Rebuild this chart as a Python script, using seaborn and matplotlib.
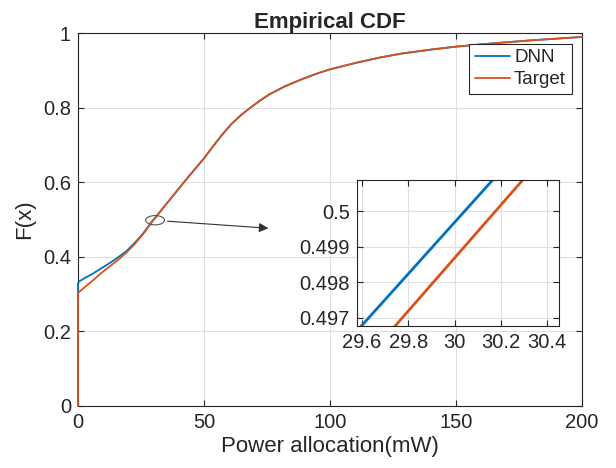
import matplotlib
matplotlib.use("Agg")
import matplotlib.pyplot as plt
import matplotlib.patches as patches
import numpy as np
import seaborn as sns

# Curvas CDF empíricas
dnn_x = [0, 0, 0.5, 1.5, 3, 6, 9, 12.6, 16, 19.2, 22.5, 26, 29.55, 29.597, 30.165, 30.22,
         35, 41.7, 46, 50, 54, 57.5, 61, 65, 68.8, 72, 76, 82, 89, 95, 100, 110, 120,
         128, 140, 150, 165, 180, 200]
dnn_y = [0, 0.329, 0.334, 0.338, 0.344, 0.355, 0.368, 0.383, 0.399, 0.415, 0.437, 0.464,
         0.49643, 0.49677, 0.50088, 0.50128,
         0.541, 0.597, 0.632, 0.664, 0.700, 0.730, 0.757, 0.782, 0.802, 0.818, 0.836,
         0.857, 0.877, 0.892, 0.903, 0.920, 0.935, 0.945, 0.956, 0.964, 0.973, 0.981, 0.990]

target_x = [0, 0, 3, 6, 9, 12.6, 16, 19.2, 22.5, 26, 29.70, 29.743, 30.295, 30.34,
            35, 41.7, 46, 50, 54, 57.5, 61, 65, 68.8, 72, 76, 82, 89, 95, 100, 110, 120,
            128, 140, 150, 165, 180, 200]
target_y = [0, 0.303, 0.320, 0.337, 0.355, 0.374, 0.392, 0.411, 0.434, 0.462,
            0.49645, 0.49677, 0.50088, 0.50122,
            0.541, 0.597, 0.632, 0.664, 0.700, 0.730, 0.757, 0.782, 0.802, 0.818, 0.836,
            0.857, 0.877, 0.892, 0.903, 0.920, 0.935, 0.945, 0.956, 0.964, 0.973, 0.981, 0.990]

x_ticks = [0, 50, 100, 150, 200]
y_ticks = [0, 0.2, 0.4, 0.6, 0.8, 1]
zoom_x_ticks = [29.6, 29.8, 30, 30.2, 30.4]
zoom_y_ticks = [0.497, 0.498, 0.499, 0.5]

azul = "#0072BD"
naranja = "#D95319"

sns.set_theme(style="white")
plt.rcParams['font.family'] = ['Liberation Sans', 'DejaVu Sans']
plt.rcParams['axes.edgecolor'] = '#262626'
plt.rcParams['xtick.color'] = '#262626'
plt.rcParams['ytick.color'] = '#262626'

fig = plt.figure(figsize=(6.16, 4.68), dpi=100)
fig.patch.set_facecolor("white")


def estilo_matlab(ax, xt, yt, fs=14.5):
    ax.set_xticks(xt)
    ax.set_yticks(yt)
    ax.set_xticklabels([f"{v:g}" for v in xt], fontsize=fs, color="#262626")
    ax.set_yticklabels([f"{v:g}" for v in yt], fontsize=fs, color="#262626")
    ax.tick_params(direction="in", length=4, width=0.8, top=True, right=True,
                   bottom=True, left=True, pad=5)
    ax.grid(True, color="#dfdfdf", linewidth=0.8)
    ax.set_axisbelow(True)
    for s in ax.spines.values():
        s.set_linewidth(0.8)
        s.set_color("#262626")


# Ejes principales
ax = fig.add_axes([0.1266, 0.133, 0.818, 0.796])
sns.lineplot(x=dnn_x, y=dnn_y, estimator=None, sort=False, color=azul, lw=1.3, ax=ax, label="DNN")
sns.lineplot(x=target_x, y=target_y, estimator=None, sort=False, color=naranja, lw=1.3, ax=ax, label="Target")
for ln in ax.get_lines():
    ln.set_clip_on(False)
    ln.set_zorder(3)
ax.set_xlim(0, 200)
ax.set_ylim(0, 1)
estilo_matlab(ax, x_ticks, y_ticks)
ax.set_xlabel("Power allocation(mW)", fontsize=16, color="#262626", labelpad=3)
ax.set_ylabel("F(x)", fontsize=16, color="#262626", labelpad=6)
ax.set_title("Empirical CDF", fontsize=16, fontweight="bold", pad=4)
leg = ax.legend(loc="upper right", fontsize=13.5, frameon=True, fancybox=False,
                edgecolor="#262626", framealpha=1, borderpad=0.3, handlelength=1.9,
                handletextpad=0.2, labelspacing=0.25, borderaxespad=0.55)
leg.get_frame().set_linewidth(0.8)

# Elipse y flecha hacia el zoom
elipse = patches.Ellipse((30.6, 0.498), 7.5, 0.025, fill=False, edgecolor="#555555", lw=0.8, zorder=4)
ax.add_patch(elipse)
ax.annotate("", xy=(76.7, 0.476), xytext=(34.4, 0.496),
            arrowprops=dict(arrowstyle="-|>", color="#333333", lw=0.8, mutation_scale=14))

# Eje del zoom
axz = fig.add_axes([0.5795, 0.3034, 0.328, 0.312])
sns.lineplot(x=dnn_x, y=dnn_y, estimator=None, sort=False, color=azul, lw=2, ax=axz, legend=False)
sns.lineplot(x=target_x, y=target_y, estimator=None, sort=False, color=naranja, lw=2, ax=axz, legend=False)
axz.set_xlim(29.578, 30.452)
axz.set_ylim(0.49677, 0.50088)
estilo_matlab(axz, zoom_x_ticks, zoom_y_ticks)
axz.set_xlabel("")
axz.set_ylabel("")

fig.savefig("out.png", dpi=100, facecolor="white")
